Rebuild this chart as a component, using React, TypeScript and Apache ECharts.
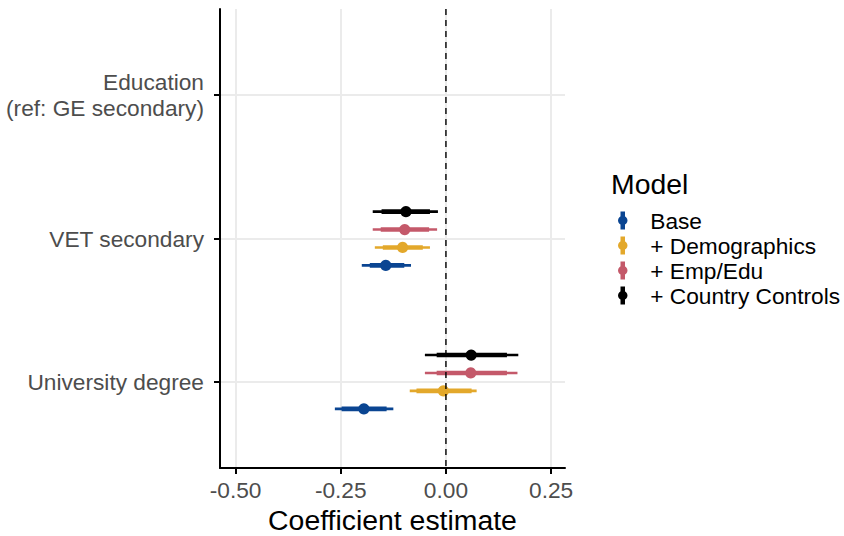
import React, { useEffect, useRef } from "react";
import * as echarts from "echarts";

// ---- data ----
const categories = ["Education\n(ref: GE secondary)", "VET secondary", "University degree"];
const models = ["Base", "+ Demographics", "+ Emp/Edu", "+ Country Controls"];
const colors = ["#0a4592", "#e3a82b", "#c4596a", "#000000"];
const xTicks = [-0.5, -0.25, 0, 0.25];

// per model, per category: Education is the reference level (no estimate)
const baseEst = [null, -0.143, -0.195];
const baseLo95 = [null, -0.2, -0.264];
const baseHi95 = [null, -0.083, -0.125];
const baseLo90 = [null, -0.181, -0.248];
const baseHi90 = [null, -0.099, -0.141];

const demoEst = [null, -0.103, -0.006];
const demoLo95 = [null, -0.169, -0.086];
const demoHi95 = [null, -0.038, 0.073];
const demoLo90 = [null, -0.15, -0.07];
const demoHi90 = [null, -0.055, 0.061];

const empEst = [null, -0.098, 0.059];
const empLo95 = [null, -0.174, -0.05];
const empHi95 = [null, -0.021, 0.17];
const empLo90 = [null, -0.155, -0.022];
const empHi90 = [null, -0.04, 0.145];

const ctrlEst = [null, -0.095, 0.06];
const ctrlLo95 = [null, -0.174, -0.05];
const ctrlHi95 = [null, -0.019, 0.172];
const ctrlLo90 = [null, -0.153, -0.022];
const ctrlHi90 = [null, -0.038, 0.145];

const modelData = [
  [baseEst, baseLo95, baseHi95, baseLo90, baseHi90],
  [demoEst, demoLo95, demoHi95, demoLo90, demoHi90],
  [empEst, empLo95, empHi95, empLo90, empHi90],
  [ctrlEst, ctrlLo95, ctrlHi95, ctrlLo90, ctrlHi90],
];

// ---- layout / style ----
const FONT = "'Liberation Sans', Arial, Helvetica, sans-serif";
const X_MIN = -0.537;
const X_MAX = 0.283;
const Y_MIN = 0.4;
const Y_MAX = 3.6;
const DODGE = 0.5;
const GRID_COLOR = "#ebebeb";
const AXIS_FS = 22.7;
const TITLE_FS = 28.4;
const ICON =
  "path://M2.75,0L7.25,0L7.25,18L2.75,18Z M5,4.25A4.75,4.75,0,1,1,5,13.75A4.75,4.75,0,1,1,5,4.25Z";

function buildRows(arrs: (number | null)[][]) {
  const [est, lo95, hi95, lo90, hi90] = arrs;
  const rows: number[][] = [];
  categories.forEach((_, i) => {
    if (est[i] == null) return;
    rows.push([i + 1, est[i] as number, lo95[i] as number, hi95[i] as number, lo90[i] as number, hi90[i] as number]);
  });
  return rows;
}

export default function App() {
  const ref = useRef<HTMLDivElement>(null);
  useEffect(() => {
    if (!ref.current) return;
    const chart = echarts.init(ref.current, null, { renderer: "svg" });
    const n = models.length;
    const series: any[] = models.map((name, k) => {
      const color = colors[k];
      // Base lowest in each group, Country Controls highest (y axis inverted)
      const offset = ((n - 1) / 2 - k) * (DODGE / n);
      return {
        type: "custom",
        name,
        itemStyle: { color },
        encode: { x: 1, y: 0 },
        data: buildRows(modelData[k]),
        renderItem: (params: any, api: any) => {
          const y = api.value(0) + offset;
          const c = api.coord([api.value(1), y]);
          const a1 = api.coord([api.value(2), y]);
          const a2 = api.coord([api.value(3), y]);
          const b1 = api.coord([api.value(4), y]);
          const b2 = api.coord([api.value(5), y]);
          return {
            type: "group",
            children: [
              { type: "line", shape: { x1: a1[0], y1: a1[1], x2: a2[0], y2: a2[1] }, style: { stroke: color, lineWidth: 2.6 } },
              { type: "line", shape: { x1: b1[0], y1: b1[1], x2: b2[0], y2: b2[1] }, style: { stroke: color, lineWidth: 4.6 } },
              { type: "circle", shape: { cx: c[0], cy: c[1], r: 5.6 }, style: { fill: color } },
            ],
          };
        },
      };
    });
    // reference line at zero
    series.push({
      type: "custom",
      name: "zero",
      z: 10,
      silent: true,
      encode: { x: 0 },
      data: [[0]],
      renderItem: (params: any, api: any) => {
        const p1 = api.coord([api.value(0), Y_MIN]);
        const p2 = api.coord([api.value(0), Y_MAX]);
        return {
          type: "line",
          shape: { x1: p1[0], y1: p1[1], x2: p2[0], y2: p2[1] },
          style: { stroke: "#000", lineWidth: 1.4, lineDash: [6, 5] },
        };
      },
    });

    chart.setOption({
      animation: false,
      textStyle: { fontFamily: FONT },
      title: {
        text: "Model",
        left: 611,
        top: 170,
        padding: 0,
        textStyle: { fontSize: TITLE_FS, fontWeight: "normal", color: "#000", fontFamily: FONT },
      },
      legend: {
        data: models,
        orient: "vertical",
        left: 618,
        top: 209,
        padding: 0,
        itemWidth: 45,
        itemHeight: 18,
        itemGap: 2,
        icon: ICON,
        textStyle: { fontSize: AXIS_FS, color: "#000", fontFamily: FONT },
      },
      grid: { left: 220, right: 279, top: 9, bottom: 68, containLabel: false, outerBoundsMode: "none" },
      xAxis: {
        type: "value",
        min: X_MIN,
        max: X_MAX,
        name: "Coefficient estimate",
        nameLocation: "middle",
        nameGap: 37,
        nameTextStyle: { fontSize: TITLE_FS, color: "#000", fontFamily: FONT },
        axisLine: { onZero: false, lineStyle: { color: "#000", width: 2 } },
        axisTick: { customValues: xTicks, length: 6, lineStyle: { color: "#000", width: 2 } },
        axisLabel: {
          customValues: xTicks,
          formatter: (v: number) => v.toFixed(2),
          fontSize: AXIS_FS,
          color: "#4d4d4d",
          margin: 10,
          fontFamily: FONT,
        },
        splitLine: { show: true, lineStyle: { color: GRID_COLOR, width: 2 } },
      },
      yAxis: {
        type: "value",
        inverse: true,
        min: Y_MIN,
        max: Y_MAX,
        axisLine: { show: true, onZero: false, lineStyle: { color: "#000", width: 2 } },
        axisTick: { show: true, customValues: [1, 2, 3], length: 6, lineStyle: { color: "#000", width: 2 } },
        axisLabel: {
          customValues: [1, 2, 3],
          formatter: (v: number) => categories[Math.round(v) - 1] ?? "",
          fontSize: AXIS_FS,
          lineHeight: 26,
          color: "#4d4d4d",
          margin: 16,
          align: "right",
          fontFamily: FONT,
        },
        splitLine: { show: true, lineStyle: { color: GRID_COLOR, width: 2 } },
      },
      series,
    });
    return () => chart.dispose();
  }, []);
  return (
    <div
      ref={ref}
      style={{ position: "fixed", left: 0, top: 0, width: 844, height: 536, background: "#fff" }}
    />
  );
}
